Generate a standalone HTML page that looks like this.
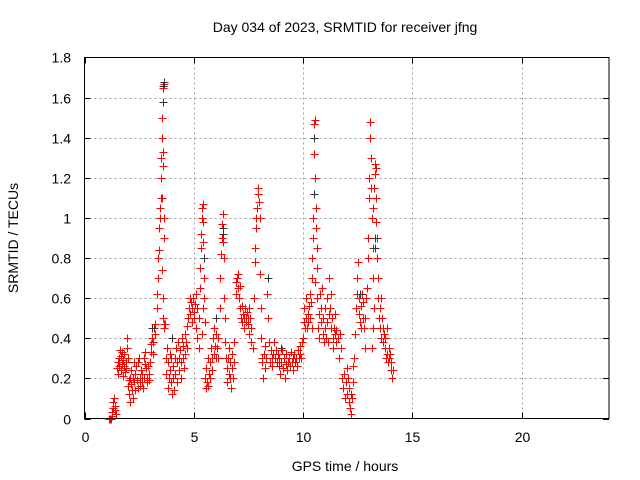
<!DOCTYPE html>
<html><head><meta charset="utf-8">
<style>
html,body{margin:0;padding:0;background:#fff;}
svg{display:block;font-family:"Liberation Sans",sans-serif;}
</style></head>
<body>
<svg id="chart" width="640" height="480" xmlns="http://www.w3.org/2000/svg">
<rect x="0" y="0" width="640" height="480" fill="#fff"/>
<g id="grid"></g>
<g id="ticks"></g>
<g id="series-red"></g>
<g id="series-black"></g>
<rect x="84.5" y="57.5" width="524.5" height="361" fill="none" stroke="#000" stroke-width="1"/>
<text x="345" y="32" font-size="14" text-anchor="middle">Day 034 of 2023, SRMTID for receiver jfng</text>
<text x="345" y="471" font-size="14" text-anchor="middle">GPS time / hours</text>
<text x="0" y="0" font-size="14" text-anchor="middle" transform="translate(18,238) rotate(-90)">SRMTID / TECUs</text>
</svg>
<script>
const xTicks = [0,5,10,15,20];
const yTicks = [0,0.2,0.4,0.6,0.8,1,1.2,1.4,1.6,1.8];
const yTickLabels = ["0","0.2","0.4","0.6","0.8","1","1.2","1.4","1.6","1.8"];
const redX = [1.10,1.15,1.20,1.25,1.28,1.30,1.32,1.35,1.38,1.40,1.45,
1.50,1.52,1.55,1.58,1.60,1.62,1.65,1.68,1.70,1.72,1.75,1.78,1.80,1.82,1.85,1.88,1.90,1.93,1.95,1.98,
2.00,2.03,2.05,2.08,2.10,2.13,2.15,2.18,2.20,2.23,2.25,2.28,2.30,2.33,2.36,2.40,2.43,2.46,2.49,
2.52,2.55,2.58,2.61,2.64,2.67,2.70,2.73,2.76,2.79,2.82,2.85,2.88,2.91,2.94,2.97,3.00,3.03,3.06,3.09,3.12,3.15,3.18,3.21,3.24,
3.30,3.33,3.36,3.38,3.40,3.42,3.44,3.46,3.48,3.50,3.52,3.54,3.56,3.58,3.60,3.62,3.61,3.57,3.55,3.63,3.65,3.55,3.58,3.60,3.62,3.66,3.70,
3.72,3.75,3.78,3.80,3.83,3.86,3.89,3.92,3.95,3.98,4.01,4.04,4.07,4.10,4.13,4.16,4.19,4.22,4.25,4.28,4.31,4.34,4.37,4.40,4.43,4.46,4.49,4.52,4.55,4.58,4.61,4.64,4.67,4.70,
4.75,4.78,4.81,4.84,4.87,4.90,4.93,4.96,4.99,5.02,5.05,5.08,5.11,5.14,5.17,
5.22,5.25,5.28,5.30,5.32,5.34,5.36,5.38,5.40,5.42,5.44,5.46,5.48,5.50,5.36,5.40,
5.52,5.55,5.58,5.61,5.64,5.67,5.70,5.73,5.76,5.79,5.82,5.85,5.88,5.91,5.94,5.97,6.00,6.03,6.06,6.09,6.12,
6.18,6.22,6.25,6.28,6.30,6.32,6.34,6.36,6.38,6.40,6.42,6.44,6.46,
6.50,6.53,6.56,6.59,6.62,6.65,6.68,6.71,6.74,6.77,6.80,6.83,6.86,
6.92,6.95,6.98,7.01,7.04,7.07,7.10,7.13,7.16,7.19,7.22,7.25,7.28,7.31,7.34,7.37,7.40,7.43,7.46,7.49,7.52,7.55,7.58,7.61,7.64,
7.70,7.74,7.78,7.80,7.83,7.86,7.89,7.92,7.95,7.98,8.01,8.04,8.06,8.08,8.10,
8.12,8.16,8.20,8.24,8.28,8.32,8.36,8.40,8.44,8.48,8.52,8.56,8.60,8.64,8.68,8.72,8.76,8.80,8.84,8.88,8.92,8.96,9.00,9.04,9.08,9.12,9.16,9.20,9.24,9.28,9.32,9.36,9.40,9.44,9.48,9.52,9.56,9.60,9.64,9.68,9.72,9.76,9.80,9.84,9.88,9.92,9.96,
10.00,10.03,10.06,10.09,10.12,10.15,10.18,10.21,10.24,10.27,10.30,10.33,10.36,10.39,
10.40,10.42,10.44,10.46,10.48,10.50,10.52,10.54,10.56,10.58,10.60,10.62,10.64,10.55,
10.66,10.69,10.72,10.75,10.78,10.81,10.84,10.87,10.90,10.93,10.96,10.99,11.02,11.05,11.08,11.11,11.14,11.17,11.20,11.23,11.26,11.29,11.32,11.35,11.38,11.41,11.44,11.47,11.50,11.53,
11.60,11.65,11.70,11.75,11.80,11.84,11.88,11.92,11.96,12.00,12.03,12.06,12.09,12.12,12.15,12.18,12.21,12.24,12.27,12.30,12.33,
12.40,12.43,12.46,12.49,12.52,12.55,12.58,12.61,12.64,12.67,12.70,12.73,12.76,12.79,12.82,12.85,12.88,12.91,
12.95,12.98,13.00,13.03,13.05,13.08,13.10,13.12,13.15,13.18,13.20,13.22,13.25,13.28,13.30,13.32,13.34,13.36,13.38,13.40,13.42,13.44,13.46,13.15,13.20,13.25,
13.50,13.53,13.56,13.59,13.62,13.65,13.68,13.71,13.74,13.77,13.80,13.83,13.86,13.89,13.92,13.95,13.98,14.01,14.04,14.07,14.10];
const redY = [0,0,0,0.01,0.03,0.05,0.08,0.10,0.06,0.04,0.02,
0.25,0.28,0.22,0.30,0.26,0.34,0.24,0.31,0.27,0.33,0.21,0.29,0.26,0.32,0.23,0.28,0.25,0.35,0.40,0.30,
0.16,0.19,0.12,0.20,0.08,0.17,0.24,0.14,0.10,0.20,0.28,0.18,0.22,0.14,0.26,0.19,0.15,0.28,0.30,
0.20,0.16,0.24,0.18,0.22,0.15,0.20,0.30,0.27,0.33,0.25,0.20,0.18,0.26,0.22,0.19,0.28,0.33,0.37,0.40,0.32,0.38,0.45,0.42,0.47,
0.55,0.62,0.70,0.80,0.84,0.95,1.00,1.05,1.10,1.20,1.30,1.40,1.50,1.58,1.65,1.67,1.26,1.33,1.10,1.00,0.90,0.74,0.60,0.50,0.45,0.47,0.47,
0.30,0.22,0.35,0.15,0.28,0.20,0.32,0.24,0.18,0.30,0.12,0.26,0.20,0.14,0.30,0.22,0.35,0.18,0.28,0.38,0.24,0.30,0.34,0.20,0.28,0.40,0.30,0.36,0.25,0.42,0.32,0.38,0.46,0.35,
0.50,0.55,0.60,0.52,0.58,0.48,0.55,0.60,0.53,0.50,0.57,0.62,0.45,0.55,0.40,
0.35,0.50,0.65,0.75,0.85,0.92,1.00,1.05,1.07,0.98,0.88,0.70,0.60,0.48,0.42,0.55,
0.20,0.15,0.25,0.18,0.30,0.16,0.22,0.28,0.20,0.35,0.24,0.30,0.40,0.32,0.45,0.36,0.30,0.42,0.35,0.30,0.40,
0.55,0.70,0.82,0.90,0.97,1.02,0.95,0.88,0.80,0.60,0.50,0.38,0.30,
0.25,0.18,0.30,0.22,0.35,0.20,0.28,0.15,0.25,0.32,0.20,0.38,0.28,
0.62,0.68,0.70,0.65,0.72,0.60,0.66,0.55,0.50,0.48,0.56,0.52,0.50,0.45,0.55,0.50,0.48,0.53,0.47,0.50,0.55,0.42,0.50,0.38,0.45,
0.35,0.60,0.78,0.85,0.95,1.00,1.05,1.12,1.15,1.08,1.00,0.72,0.55,0.40,0.30,
0.28,0.20,0.32,0.25,0.36,0.30,0.62,0.50,0.38,0.28,0.34,0.30,0.26,0.32,0.38,0.30,0.34,0.28,0.32,0.26,0.30,0.22,0.28,0.34,0.25,0.30,0.20,0.27,0.32,0.24,0.28,0.30,0.26,0.33,0.28,0.30,0.24,0.32,0.28,0.30,0.26,0.34,0.30,0.32,0.36,0.30,0.38,
0.40,0.48,0.55,0.45,0.50,0.60,0.45,0.52,0.48,0.56,0.62,0.50,0.58,0.45,
0.70,0.80,0.90,1.00,1.12,1.32,1.47,1.49,1.20,1.05,0.95,0.85,0.75,0.68,
0.60,0.45,0.52,0.40,0.62,0.55,0.48,0.65,0.50,0.42,0.38,0.45,0.55,0.40,0.60,0.48,0.38,0.52,0.70,0.55,0.45,0.62,0.50,0.40,0.35,0.45,0.52,0.42,0.38,0.44,
0.40,0.30,0.42,0.35,0.20,0.15,0.22,0.10,0.18,0.25,0.12,0.20,0.08,0.15,0.05,0.12,0.02,0.10,0.18,0.26,0.30,
0.42,0.55,0.62,0.70,0.78,0.60,0.52,0.48,0.56,0.45,0.62,0.50,0.58,0.45,0.35,0.50,0.60,0.65,
0.80,0.90,1.10,1.20,1.40,1.48,1.30,1.15,1.00,0.85,0.70,1.05,1.15,1.22,1.27,1.25,1.10,0.98,0.90,0.80,0.70,0.60,0.50,0.35,0.45,0.55,
0.45,0.55,0.60,0.40,0.50,0.38,0.45,0.42,0.35,0.40,0.30,0.45,0.32,0.28,0.35,0.30,0.32,0.28,0.24,0.20,0.24];
const blackX = [3.60,3.62,3.58,3.10,4.00,5.45,6.00,6.34,6.35,8.40,9.00,10.50,10.52,12.60,13.28,13.30];
const blackY = [1.66,1.68,1.58,0.45,0.40,0.80,0.50,0.92,0.95,0.70,0.35,1.12,1.40,0.62,0.85,0.90];

const X0=84.5, X1=609, Y0=418.5, Y1=57.5, XMAX=24, YMAX=1.8;
function sx(v){return X0+(X1-X0)*v/XMAX;}
function sy(v){return Y0-(Y0-Y1)*v/YMAX;}
const NS="http://www.w3.org/2000/svg";
function mk(tag,attrs,parent){const e=document.createElementNS(NS,tag);for(const k in attrs)e.setAttribute(k,attrs[k]);parent.appendChild(e);return e;}
const grid=document.getElementById('grid'), ticks=document.getElementById('ticks');
xTicks.forEach((t,i)=>{
  const x=Math.round(sx(t))+0.5;
  if(i>0){const g=mk('line',{x1:x,x2:x,y1:Y1,y2:Y0,stroke:'#a0a0a0','stroke-dasharray':'2,3'},grid);
  
  }
  const a=mk('line',{x1:x,x2:x,y1:Y0,y2:Y0-6,stroke:'#000'},ticks);
  
  
  const b=mk('line',{x1:x,x2:x,y1:Y1,y2:Y1+6,stroke:'#000'},ticks);
  
  
  const tx=mk('text',{x:x,y:442,'font-size':14,'text-anchor':'middle'},ticks);
  tx.textContent=String(t);
  
  
});
yTicks.forEach((t,i)=>{
  const y=Math.round(sy(t))+0.5;
  if(i>0&&i<yTicks.length-1){const g=mk('line',{x1:X0,x2:X1,y1:y,y2:y,stroke:'#a0a0a0','stroke-dasharray':'2,3'},grid);
  
  }
  const a=mk('line',{x1:X0,x2:X0+6,y1:y,y2:y,stroke:'#000'},ticks);
  
  
  const b=mk('line',{x1:X1,x2:X1-6,y1:y,y2:y,stroke:'#000'},ticks);
  
  
  const tx=mk('text',{x:71,y:y+5,'font-size':14,'text-anchor':'end'},ticks);
  tx.textContent=yTickLabels[i];
  
  
});
function plus(g,xv,yv,color){
  const x=Math.round(sx(xv))+0.5, y=Math.round(sy(yv))+0.5;
  const p=mk('path',{d:`M${x-4},${y}H${x+4}M${x},${y-4}V${y+4}`,stroke:color,'stroke-width':1,fill:'none'},g);
  return p;
}
const gr=document.getElementById('series-red');
redX.forEach((v,i)=>{const p=plus(gr,v,redY[i],'#ff0000');
  
  });
const gb=document.getElementById('series-black');
blackX.forEach((v,i)=>{const p=plus(gb,v,blackY[i],'#333333');
  
  });
</script>
</body></html>
